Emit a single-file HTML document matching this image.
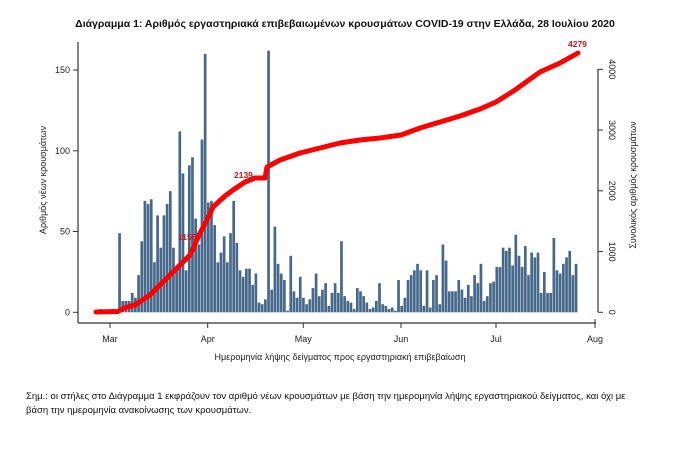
<!DOCTYPE html>
<html><head><meta charset="utf-8"><style>
body{margin:0;background:#fff;width:699px;height:445px;overflow:hidden;font-family:"Liberation Sans","DejaVu Sans",sans-serif}
</style></head><body>
<svg id="s" width="699" height="445" xmlns="http://www.w3.org/2000/svg" font-family="Liberation Sans, DejaVu Sans, sans-serif">
<text x="345" y="27" font-size="10.5" font-weight="bold" text-anchor="middle" fill="#111">Διάγραμμα 1: Αριθμός εργαστηριακά επιβεβαιωμένων κρουσμάτων COVID-19 στην Ελλάδα, 28 Ιουλίου 2020</text>
<g id="bars" fill="#46688b"></g>
<line x1="78" y1="42" x2="78" y2="323" stroke="#333" stroke-width="1.2"/>
<line x1="78" y1="323" x2="596" y2="323" stroke="#333" stroke-width="1.2"/>
<g stroke="#333" stroke-width="1">
<line x1="73" y1="312.3" x2="78" y2="312.3"/><line x1="73" y1="231.5" x2="78" y2="231.5"/><line x1="73" y1="150.8" x2="78" y2="150.8"/><line x1="73" y1="70" x2="78" y2="70"/>
<line x1="110" y1="323" x2="110" y2="328"/><line x1="207.7" y1="323" x2="207.7" y2="328"/><line x1="303.3" y1="323" x2="303.3" y2="328"/><line x1="401" y1="323" x2="401" y2="328"/><line x1="496" y1="323" x2="496" y2="328"/><line x1="595" y1="319" x2="595" y2="328"/>
<line x1="598" y1="69" x2="598" y2="312.3" stroke-width="1.2"/>
<line x1="598" y1="312.3" x2="603" y2="312.3"/><line x1="598" y1="251.6" x2="603" y2="251.6"/><line x1="598" y1="190.8" x2="603" y2="190.8"/><line x1="598" y1="130" x2="603" y2="130"/><line x1="598" y1="69.3" x2="603" y2="69.3"/>
</g>
<g font-size="9" fill="#222" text-anchor="end">
<text x="70" y="315.5">0</text><text x="70" y="234.5">50</text><text x="70" y="154">100</text><text x="70" y="73">150</text>
</g>
<g font-size="9" fill="#222" text-anchor="middle">
<text x="110" y="342">Mar</text><text x="207.7" y="342">Apr</text><text x="303.3" y="342">May</text><text x="401" y="342">Jun</text><text x="496" y="342">Jul</text><text x="595" y="342">Aug</text>
</g>
<g font-size="9" fill="#222" text-anchor="middle">
<text transform="translate(609,312.3) rotate(90)">0</text>
<text transform="translate(609,251.6) rotate(90)">1000</text>
<text transform="translate(609,190.8) rotate(90)">2000</text>
<text transform="translate(609,130) rotate(90)">3000</text>
<text transform="translate(609,69.3) rotate(90)">4000</text>
</g>
<text transform="translate(46,180) rotate(-90)" font-size="9" fill="#222" text-anchor="middle">Αριθμός νέων κρουσμάτων</text>
<text transform="translate(636,185) rotate(-90)" font-size="9" fill="#222" text-anchor="middle">Συνολικός αριθμός κρουσμάτων</text>
<text x="340" y="360" font-size="9" fill="#222" text-anchor="middle">Ημερομηνία λήψης δείγματος προς εργαστηριακή επιβεβαίωση</text>
<polyline id="cum" fill="none" stroke="#f00" stroke-width="5" stroke-linecap="round" stroke-linejoin="round"/>
<g font-size="8.5" font-weight="bold" fill="#d0121b">
<text x="234" y="178">2139</text><text x="178" y="240">1156</text><text x="568" y="47">4279</text>
</g>
<text x="26" y="399" font-size="9.5" fill="#111">Σημ.: οι στήλες στο Διάγραμμα 1 εκφράζουν τον αριθμό νέων κρουσμάτων με βάση την ημερομηνία λήψης εργαστηριακού δείγματος, και όχι με</text>
<text x="26" y="413" font-size="9.5" fill="#111">βάση την ημερομηνία ανακοίνωσης των κρουσμάτων.</text>
</svg>
<script>
var v=[1,2,1,0,0,2,1,
49,7,7,7,12,9,23,44,69,67,70,31,60,40,60,67,75,40,28,112,86,26,91,96,58,42,107,160,
68,69,54,31,37,47,31,49,69,43,26,22,27,27,17,24,6,5,8,162,
14,53,30,24,20,1,
35,13,9,22,9,5,8,15,24,10,14,18,4,12,18,12,44,10,7,6,
2,15,13,10,6,2,3,7,18,5,4,2,3,1,20,4,9,20,23,26,
30,26,4,26,3,20,23,5,42,32,13,13,13,20,14,9,17,10,23,18,
30,7,10,18,19,28,28,40,38,40,29,48,35,28,41,23,37,34,37,12,
25,12,12,46,26,24,30,34,38,23,30];
var g=document.getElementById('bars'),h='';
function X(i){return 110+(i-4)*3.17;}
for(var i=0;i<v.length;i++){var hh=v[i]*1.615;h+='<rect x="'+(X(i)-1.3).toFixed(2)+'" y="'+(312.3-hh).toFixed(2)+'" width="2.7" height="'+hh.toFixed(2)+'"/>';}
g.innerHTML=h;
var p=[[96,312],[118,311.5],[124,308],[135,305],[150,295],[165,280],[180,265],[190,255],[200,233],[207,220],[213,207],[225,196],[233,190],[245,182],[255,178],[265,178],[267,167],[280,160],[300,153],[320,148],[340,143],[360,140],[380,138],[401,135],[420,128],[440,122],[460,116],[480,109],[496,102],[515,90],[540,72],[560,63],[578,53]];
document.getElementById('cum').setAttribute('points',p.map(function(a){return a.join(',')}).join(' '));
</script>
</body></html>
